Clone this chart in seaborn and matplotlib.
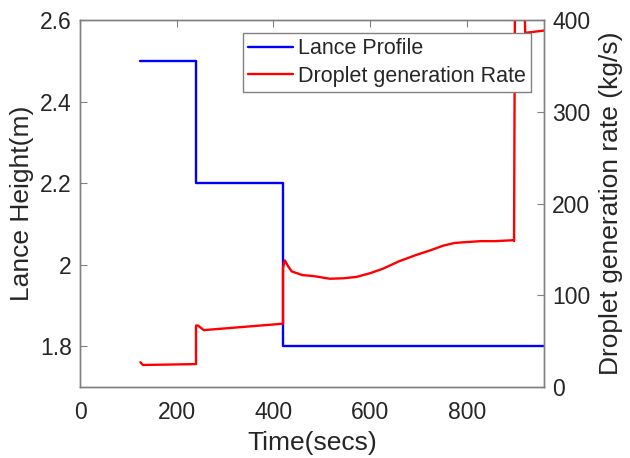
import numpy as np
import pandas as pd
import matplotlib
matplotlib.use("Agg")
import matplotlib.pyplot as plt
from matplotlib.ticker import FormatStrFormatter
import seaborn as sns

# lance height profile (m)
lance_t = [125, 240, 240, 420, 420, 960]
lance_h = [2.5, 2.5, 2.2, 2.2, 1.8, 1.8]

# droplet generation rate (kg/s)
rate_t = [125, 130, 240, 240, 244, 256, 420, 420, 424, 430, 438, 460, 482, 517,
          545, 572, 600, 627, 660, 696, 725, 751, 775, 800, 830, 860, 896, 898,
          900, 919, 921, 960]
rate_v = [27, 24, 25, 67, 67, 62, 69, 130, 138, 132, 126, 122, 121, 118,
          118.5, 120, 124, 129, 137, 144, 149, 154, 157, 158, 159, 159, 160, 159,
          440, 440, 386, 388.5]

sns.set_style("white")
plt.rcParams['font.family'] = ['Liberation Sans', 'DejaVu Sans']

lance = pd.DataFrame({"t": lance_t, "h": lance_h})
rate = pd.DataFrame({"t": rate_t, "r": rate_v})

fig = plt.figure(figsize=(6.3, 4.58), dpi=100)
ax = fig.add_axes([0.127, 0.155, 0.7365, 0.8013])
ax2 = ax.twinx()

sns.lineplot(data=lance, x="t", y="h", ax=ax, color="#0000ff", lw=1.7,
             estimator=None, sort=False, label="Lance Profile", legend=False)
sns.lineplot(data=rate, x="t", y="r", ax=ax2, color="#ff0000", lw=1.7,
             estimator=None, sort=False, label="Droplet generation Rate", legend=False)

ax.set_xlim(0, 960)
ax.set_ylim(1.7, 2.6)
ax2.set_ylim(0, 400)
ax.set_xticks([0, 200, 400, 600, 800])
ax.set_yticks([1.8, 2.0, 2.2, 2.4, 2.6])
ax2.set_yticks([0, 100, 200, 300, 400])
ax.yaxis.set_major_formatter(FormatStrFormatter('%g'))

ax.set_xlabel("Time(secs)", fontsize=19, labelpad=5)
ax.set_ylabel("Lance Height(m)", fontsize=19, labelpad=4)
ax2.set_ylabel("Droplet generation rate (kg/s)", fontsize=19, labelpad=6)

for a in (ax, ax2):
    for s in a.spines.values():
        s.set_color("#808080")
        s.set_linewidth(1.0)
ax.tick_params(axis="both", direction="in", length=5, color="#808080",
               labelsize=16.5, top=True, right=False, pad=6)
ax.tick_params(axis="x", pad=10)
ax2.tick_params(axis="y", direction="in", length=5, color="#808080",
                labelsize=16.5, pad=6)

h1, l1 = ax.get_legend_handles_labels()
h2, l2 = ax2.get_legend_handles_labels()
leg = ax2.legend(h1 + h2, l1 + l2, loc="upper right", bbox_to_anchor=(0.972, 0.9646),
                 fontsize=15.5, frameon=True, fancybox=False, framealpha=1,
                 edgecolor="#808080", handlelength=2.07, borderpad=0.25,
                 labelspacing=0.3, handletextpad=0.22, borderaxespad=0)
leg.get_frame().set_linewidth(1.0)

fig.savefig("out.png", dpi=100)
